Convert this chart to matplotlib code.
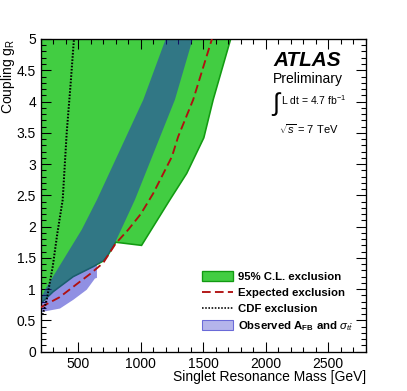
import matplotlib
matplotlib.use("Agg")
import matplotlib.pyplot as plt
from matplotlib.patches import Polygon, Patch
from matplotlib.lines import Line2D
from matplotlib.ticker import MultipleLocator

plt.rcParams['font.family'] = ['Liberation Sans', 'DejaVu Sans']
plt.rcParams['mathtext.fontset'] = 'custom'
plt.rcParams['mathtext.rm'] = 'Liberation Sans'
plt.rcParams['mathtext.it'] = 'Liberation Sans:italic'
plt.rcParams['mathtext.bf'] = 'Liberation Sans:bold'
plt.rcParams['hatch.linewidth'] = 0.75
plt.rcParams['lines.scale_dashes'] = False

# ---- data ----
# 95% C.L. exclusion region (boundary, clockwise from top-left)
excl_mass = [200, 1720, 1580, 1505, 1368, 1234, 1007, 800, 740, 700, 620, 460, 300, 200]
excl_coupling = [5.0, 5.0, 4.03, 3.42, 2.85, 2.43, 1.70, 1.75, 1.55, 1.45, 1.36, 1.20, 0.96, 0.77]

# Observed A_FB and sigma_tt band (boundary)
afb_mass = [200, 234, 528, 650, 1021, 1200, 1416, 1274, 954, 790, 745, 700, 650,
            650, 634, 568, 461, 354, 221, 200]
afb_coupling = [0.84, 0.99, 1.95, 2.43, 4.03, 5.0, 5.0, 4.03, 2.43, 1.72, 1.56, 1.45, 1.39,
                1.18, 1.17, 0.99, 0.83, 0.69, 0.64, 0.62]

# Expected exclusion
exp_mass = [200, 350, 514, 600, 700, 800, 900, 1000, 1100, 1250, 1300, 1420, 1570]
exp_coupling = [0.71, 0.87, 1.12, 1.25, 1.42, 1.73, 1.95, 2.20, 2.53, 3.12, 3.44, 4.03, 5.0]

# CDF exclusion
cdf_mass = [216, 248, 296, 333, 376, 408, 440, 466]
cdf_coupling = [0.59, 0.83, 1.36, 1.89, 2.43, 3.50, 4.30, 5.0]

labels = ['95% C.L. exclusion', 'Expected exclusion', 'CDF exclusion',
          r'Observed A$_{\mathbf{FB}}$ and $\sigma_{t\bar{t}}$']

green = '#42cd42'
green_edge = '#129a12'
blue = '#2222c8'

DPI = 96
fig = plt.figure(figsize=(407 / DPI, 391 / DPI), dpi=DPI)
ax = fig.add_axes([0.100, 0.1005, 0.7985, 0.7998])

ax.add_patch(Polygon(list(zip(excl_mass, excl_coupling)), closed=True,
                     facecolor=green, edgecolor=green_edge, linewidth=1.2, zorder=1))
ax.add_patch(Polygon(list(zip(afb_mass, afb_coupling)), closed=True,
                     facecolor='none', edgecolor=blue, hatch='|' * 8, linewidth=0, zorder=2))
ax.plot(exp_mass, exp_coupling, color='#b01010', lw=1.4, dashes=(6.5, 3.2), zorder=3)
ax.plot(cdf_mass, cdf_coupling, color='black', lw=1.5, dashes=(1.2, 1.2), zorder=3)

ax.set_xlim(200, 2800)
ax.set_ylim(0, 5)
ax.xaxis.set_minor_locator(MultipleLocator(100))
ax.yaxis.set_minor_locator(MultipleLocator(0.1))
ax.set_xticks([500, 1000, 1500, 2000, 2500])
ax.set_xticklabels(['500', '1000', '1500', '2000', '2500'])
ax.set_yticks([0, 0.5, 1, 1.5, 2, 2.5, 3, 3.5, 4, 4.5, 5])
ax.set_yticklabels(['0', '0.5', '1', '1.5', '2', '2.5', '3', '3.5', '4', '4.5', '5'])
ax.tick_params(which='both', direction='in', top=True, right=True, labelsize=10.4, width=0.8)
ax.tick_params(which='major', length=7.5)
ax.tick_params(which='minor', length=3.8)
ax.tick_params(axis='x', pad=4)
for s in ax.spines.values():
    s.set_linewidth(1.0)

ax.set_xlabel('Singlet Resonance Mass [GeV]', fontsize=10.4, loc='right', labelpad=-1)
ax.set_ylabel(r'Coupling g$_\mathrm{R}$', fontsize=10.4, loc='top')
ax.yaxis.set_label_coords(-0.072, 1.0)

fig.text(273/407, 1 - 66/391, 'ATLAS', fontsize=15.6, fontweight='bold', style='italic')
fig.text(273/407, 1 - 83/391, 'Preliminary', fontsize=10.4)
fig.text(271/407, 1 - 111/391, r'$\int$', fontsize=19)
fig.text(281/407, 1 - 105/391, r'L dt = 4.7 fb$^{-1}$', fontsize=7.8)
fig.text(279/407, 1 - 134/391, r'$\sqrt{s}$ = 7 TeV', fontsize=8.3)

handles = [
    Patch(facecolor=green, edgecolor=green_edge, linewidth=1.0),
    Line2D([], [], color='#b01010', lw=1.4, dashes=(6.5, 3.2)),
    Line2D([], [], color='black', lw=1.2, dashes=(1.2, 1.2)),
    Patch(facecolor='white', edgecolor='#6a6ad8', hatch='|' * 8, linewidth=0.8),
]
fig.legend(handles, labels, loc='upper left', bbox_to_anchor=(202/407, 1 - 271/391),
           frameon=False, prop={'weight': 'bold', 'size': 8.5}, handlelength=2.7,
           handleheight=1.0, handletextpad=0.45, labelspacing=0.45, borderaxespad=0,
           borderpad=0)

fig.savefig('out.png', dpi=DPI)
